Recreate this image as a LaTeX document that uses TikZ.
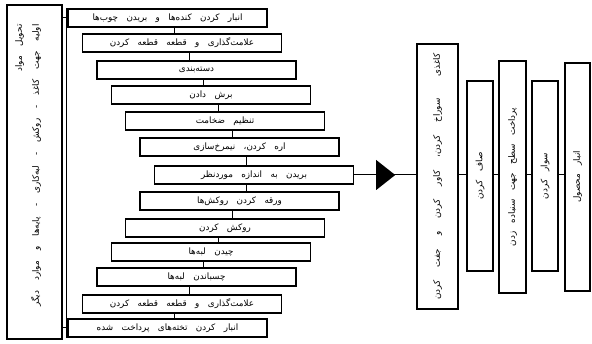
\documentclass[tikz,border=0pt]{standalone}
\usepackage{fontspec}
\newfontfamily\fa[Script=Arabic,WordSpace=3]{DejaVu Sans}
\TeXXeTstate=1
\usetikzlibrary{calc}
\newcommand\widefont{\fa\fontsize{8.8}{17}\selectfont\spaceskip=13pt plus 1pt\relax}
\newcommand\midfont{\fa\fontsize{8.8}{17}\selectfont\spaceskip=10pt plus 1pt\relax}
\begin{document}
\begin{tikzpicture}[x=1pt,y=-1pt,
  every node/.style={inner sep=0pt},
  txt/.style={font=\fa\fontsize{8.8}{10}\selectfont},
  wtxt/.style={font=\widefont},
  mtxt/.style={font=\midfont},
  hbox/.style={draw, line width=1.3pt, minimum width=199pt, minimum height=18pt, txt},
  vbox/.style={draw, line width=1.4pt},
  link/.style={line width=1pt},
  vlab/.style={rotate=90, txt}]
\useasboundingbox (0,0) rectangle (592,344);
% left vertical box
\node[vbox, minimum width=55pt, minimum height=334pt] (L) at (34.5,172) {};
\node[vlab, mtxt, anchor=east] (Lt1) at ($(L.north)+(-15,20)$) {\beginR تحویل مواد\endR};
\node[vlab, mtxt, anchor=east] (Lt2) at ($(L.north)+(1.5,20)$)
  {\beginR اولیه جهت کاغذ - روکش - لبه‌کاری - پایه‌ها و موارد دیگر\endR};
% process boxes
\node[hbox] (b1) at (167.5,18) {\beginR انبار کردن کنده‌ها و بریدن چوب‌ها\endR};
\node[hbox] (b2) at (182,43) {\beginR علامت‌گذاری و قطعه قطعه کردن\endR};
\node[hbox] (b3) at (196.5,70) {\beginR دسته‌بندی\endR};
\node[hbox] (b4) at (211,95) {\beginR برش دادن\endR};
\node[hbox] (b5) at (225,121) {\beginR تنظیم ضخامت\endR};
\node[hbox] (b6) at (239.5,147) {\beginR اره کردن، نیمرخ‌سازی\endR};
\node[hbox] (b7) at (254,175) {\beginR بریدن به اندازه موردنظر\endR};
\node[hbox] (b8) at (239.5,201) {\beginR ورقه کردن روکش‌ها\endR};
\node[hbox] (b9) at (225,228) {\beginR روکش کردن\endR};
\node[hbox] (b10) at (211,252) {\beginR چیدن لبه‌ها\endR};
\node[hbox] (b11) at (196.5,277) {\beginR چسباندن لبه‌ها\endR};
\node[hbox] (b12) at (182,304) {\beginR علامت‌گذاری و قطعه قطعه کردن\endR};
\node[hbox] (b13) at (167.5,328) {\beginR انبار کردن تخته‌های پرداخت شده\endR};
% bracket
\coordinate (br) at (66,0);
\draw[link] (br |- b1.north) -- (br |- b13.south);
\draw[link] (L.east |- b1) -- (b1.west);
\draw[link] (L.east |- b13) -- (b13.west);
% links between boxes
\foreach \a/\b in {b1/b2,b2/b3,b3/b4,b4/b5,b5/b6,b6/b7,b7/b8,b8/b9,b9/b10,b10/b11,b11/b12,b12/b13}{
  \coordinate (m) at ($(\a)!0.5!(\b)$);
  \draw[link] (m |- \a.south) -- (m |- \b.north);
}
% right boxes
\node[vbox, minimum width=41pt, minimum height=265pt] (R1) at (437.5,176.5) {};
\node[vlab, wtxt] (R1t) at (R1)
  {\beginR کاغذی\hspace{22pt}سوراخ کردن، کاور کردن و جفت کردن\endR};
\node[vbox, minimum width=26pt, minimum height=190pt] (R2) at (480,176) {};
\node[vlab] (R2t) at (R2) {\beginR صاف کردن\endR};
\node[vbox, minimum width=27pt, minimum height=232pt] (R3) at (512.5,177) {};
\node[vlab] (R3t) at (R3) {\beginR پرداخت سطح جهت سنباده زدن\endR};
\node[vbox, minimum width=26pt, minimum height=190pt] (R4) at (545,176) {};
\node[vlab] (R4t) at (R4) {\beginR سوار کردن\endR};
\node[vbox, minimum width=25pt, minimum height=228pt] (R5) at (577.5,177) {};
\node[vlab] (R5t) at (R5) {\beginR انبار محصول\endR};
% main flow
\coordinate (tri) at ($(b7.east)!0.5!(b7.east -| R1.west)$);
\draw[link] (b7.east) -- (b7.east -| R1.west);
\fill ($(tri)+(-9,-15)$) -- ($(tri)+(10,0)$) -- ($(tri)+(-9,15)$) -- cycle;
\draw[link] (R1.east |- b7.east) -- (R2.west |- b7.east);
\draw[link] (R2.east |- b7.east) -- (R3.west |- b7.east);
\draw[link] (R3.east |- b7.east) -- (R4.west |- b7.east);
\draw[link] (R4.east |- b7.east) -- (R5.west |- b7.east);
\end{tikzpicture}
\end{document}
